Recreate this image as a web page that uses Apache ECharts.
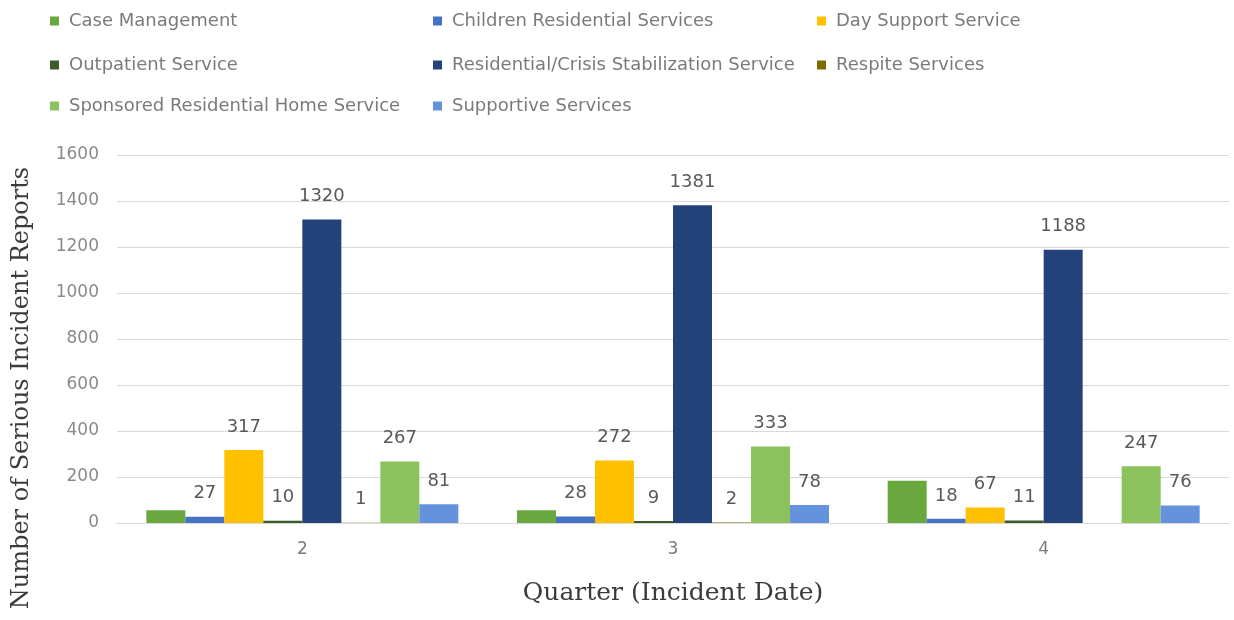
<!DOCTYPE html>
<html>
<head>
<meta charset="utf-8">
<script src="https://cdn.jsdelivr.net/npm/echarts@6/dist/echarts.min.js"></script>
<style>html,body{margin:0;padding:0;background:#fff;}#c{width:1234px;height:620px;}</style>
</head>
<body>
<div id="c"></div>
<script>
const quarters = ['2', '3', '4'];
const seriesNames = [
  'Case Management',
  'Children Residential Services',
  'Day Support Service',
  'Outpatient Service',
  'Residential/Crisis Stabilization Service',
  'Respite Services',
  'Sponsored Residential Home Service',
  'Supportive Services'
];
const caseManagement = [55, 55, 184];
const childrenResidential = [27, 28, 18];
const daySupport = [317, 272, 67];
const outpatient = [10, 9, 11];
const residentialCrisis = [1320, 1381, 1188];
const respite = [1, 2, null];
const sponsoredResidential = [267, 333, 247];
const supportive = [81, 78, 76];
const yTicks = [0, 200, 400, 600, 800, 1000, 1200, 1400, 1600];

const values = [caseManagement, childrenResidential, daySupport, outpatient,
  residentialCrisis, respite, sponsoredResidential, supportive];
const colors = ['#68a83f', '#4472c4', '#ffc000', '#3b5a2a', '#24427a', '#7f6a00', '#8cc25c', '#6592dc'];
const showLabel = [false, true, true, true, true, true, true, true];

const legendPos = [
  [50, 11], [433, 11], [817, 11],
  [50, 55], [433, 55], [817, 55],
  [50, 96], [433, 96]
];

const chart = echarts.init(document.getElementById('c'));
chart.setOption({
  backgroundColor: '#ffffff',
  animation: false,
  color: colors,
  legend: seriesNames.map((n, i) => ({
    data: [n],
    left: legendPos[i][0],
    top: legendPos[i][1],
    padding: 0,
    icon: 'rect',
    itemWidth: 9,
    itemHeight: 9,
    selectedMode: false,
    textStyle: { fontFamily: 'DejaVu Sans', fontSize: 18, color: '#7a7a7a', padding: [0, 0, 0, 5], lineHeight: 20 }
  })),
  grid: { left: 117, right: 5, top: 155, bottom: 97, containLabel: false },
  xAxis: {
    type: 'category',
    data: quarters,
    axisLine: { lineStyle: { color: '#d9d9d9', width: 1 } },
    axisTick: { show: false },
    axisLabel: { fontFamily: 'DejaVu Sans', fontSize: 17, color: '#7a7a7a', margin: 18 },
    name: 'Quarter (Incident Date)',
    nameLocation: 'middle',
    nameGap: 58,
    nameTextStyle: { fontFamily: 'DejaVu Serif', fontSize: 25, color: '#3b3b3b' }
  },
  yAxis: {
    type: 'value',
    min: yTicks[0],
    max: yTicks[yTicks.length - 1],
    interval: 200,
    axisLine: { show: false },
    axisTick: { show: false },
    splitLine: { lineStyle: { color: '#d9d9d9', width: 1 } },
    axisLabel: {
      fontFamily: 'DejaVu Sans', fontSize: 17, color: '#8a8a8a', margin: 18,
      formatter: v => String(v)
    }
  },
  graphic: [{
    type: 'text',
    x: 22,
    y: 388,
    rotation: Math.PI / 2,
    style: {
      text: 'Number of Serious Incident Reports',
      fontFamily: 'DejaVu Serif',
      fontSize: 24,
      fill: '#3b3b3b',
      textAlign: 'center',
      textVerticalAlign: 'middle'
    }
  }],
  series: seriesNames.map((n, i) => ({
    name: n,
    type: 'bar',
    data: values[i],
    barWidth: 39,
    barGap: '0%',
    itemStyle: { color: colors[i] },
    label: {
      show: showLabel[i],
      position: 'top',
      distance: 14,
      fontFamily: 'DejaVu Sans',
      fontSize: 18,
      color: '#595959'
    }
  }))
});
</script>
</body>
</html>
